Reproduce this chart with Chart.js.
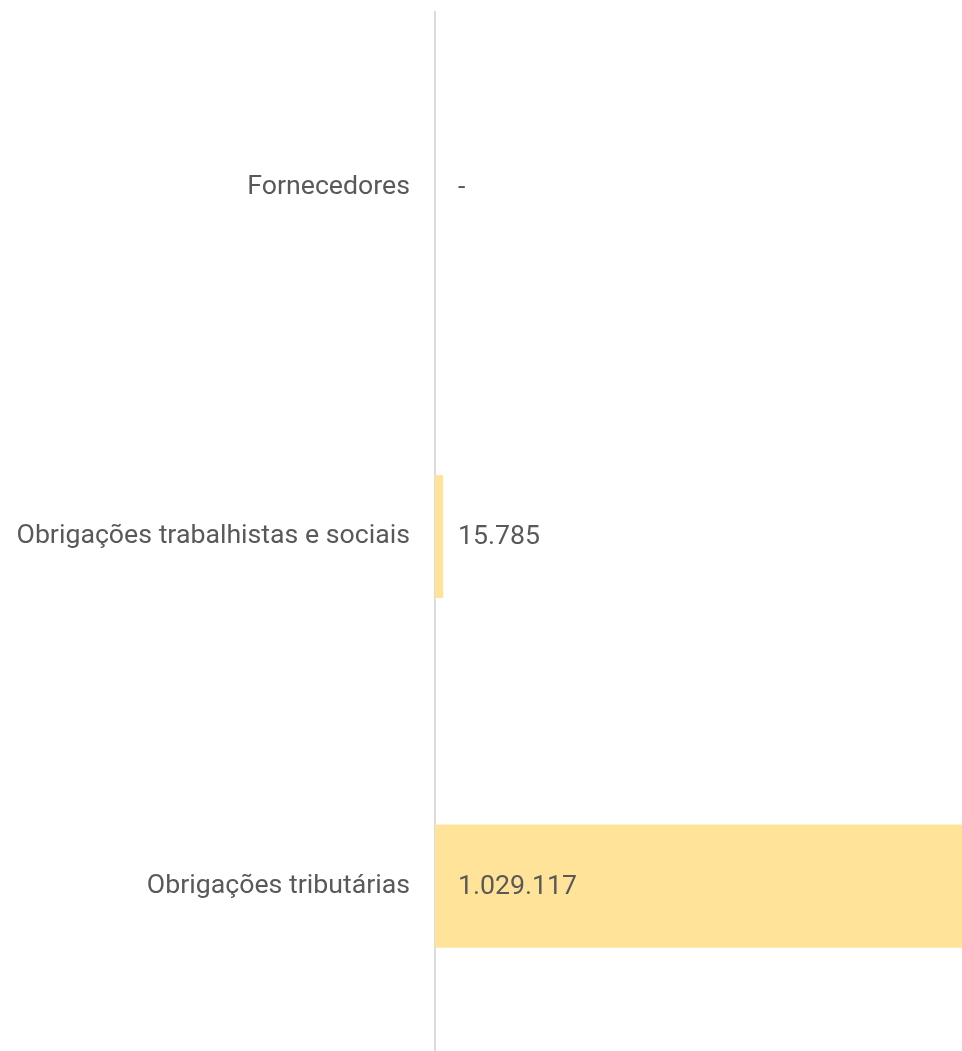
<!DOCTYPE html>
<html>
<head>
<meta charset="utf-8">
<script src="https://cdn.jsdelivr.net/npm/chart.js@4"></script>
<style>
  html, body { margin: 0; padding: 0; background: #fff; overflow: hidden; }
  #chart_one { display: block; margin-top: -4px; }
</style>
</head>
<body>
<canvas id="chart_one" width="962" height="1081"></canvas>
<script>
// categories and values (R$)
let categories = ["Fornecedores", "Obrigações trabalhistas e sociais", "Obrigações tributárias"];
let values = [0, 15785, 1029117];
let valueLabels = ["-", "15.785", "1.029.117"];

// draws the number right of the axis for each bar
const valueTextPlugin = {
    id: "valueText",
    afterDatasetsDraw(chart) {
        let ctx = chart.ctx;
        let meta = chart.getDatasetMeta(0);
        ctx.save();
        ctx.font = "26.7px Roboto";
        ctx.fillStyle = "#595959";
        ctx.textAlign = "left";
        ctx.textBaseline = "middle";
        meta.data.forEach((bar, i) => {
            ctx.fillText(valueLabels[i], chart.chartArea.left + 23, bar.y + 1);
        });
        ctx.restore();
    }
};

var ChartOne = new Chart("chart_one", {
    type: "bar",
    data: {
        labels: categories,
        datasets: [{
            data: values,
            backgroundColor: "#ffe398",
            barPercentage: 0.352,
            categoryPercentage: 1
        }]
    },
    options: {
        indexAxis: "y",
        responsive: false,
        animation: false,
        layout: { padding: 0 },
        plugins: {
            legend: { display: false },
            tooltip: { enabled: false }
        },
        scales: {
            x: {
                display: false,
                min: 0,
                max: 1029117
            },
            y: {
                afterFit: (scale) => { scale.width = 435; },
                grid: {
                    display: true,
                    drawOnChartArea: false,
                    drawTicks: true,
                    tickLength: 25,
                    color: "rgba(0,0,0,0)"
                },
                border: { display: true, color: "#dcdcdc", width: 2 },
                ticks: {
                    padding: 0,
                    color: "#595959",
                    font: { family: "Roboto", size: 26.7 }
                }
            }
        }
    },
    plugins: [valueTextPlugin]
});
</script>
</body>
</html>
